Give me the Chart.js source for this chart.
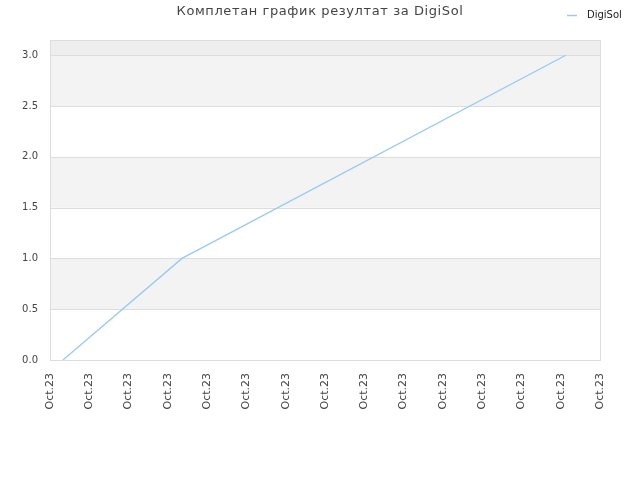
<!DOCTYPE html>
<html lang="sr">
<head>
  <meta charset="UTF-8" />
  <title>Комплетан график резултат за DigiSol</title>
  <script src="https://cdn.jsdelivr.net/npm/chart.js"></script>
  <style>
    body { margin: 0; background: #fff; }
    canvas { display: block; }
  </style>
</head>
<body>
  <canvas id="chart" width="640" height="480"></canvas>
  <script>
    // Tick labels along the time axis (all the same in the source)
    const xTickLabels = ["Oct.23","Oct.23","Oct.23","Oct.23","Oct.23","Oct.23","Oct.23","Oct.23",
                         "Oct.23","Oct.23","Oct.23","Oct.23","Oct.23","Oct.23","Oct.23"];
    // Series points (x in tick units, y = score)
    const seriesX = [0.33, 3.36, 13.13];
    const seriesY = [0, 1.0, 3.0];
    // Shaded bands on the value axis
    const bandsFrom = [0.5, 1.5, 2.5, 3.0];
    const bandsTo   = [1.0, 2.0, 3.0, 3.15];
    const bandsFill = ['#f3f3f3', '#f3f3f3', '#f3f3f3', '#eeeeee'];

    const FONT = "'DejaVu Sans', sans-serif";

    const decor = {
      id: 'decor',
      beforeDatasetsDraw(chart) {
        const { ctx, chartArea: a, scales: { y } } = chart;
        ctx.save();
        for (let i = 0; i < bandsFrom.length; i++) {
          const top = y.getPixelForValue(bandsTo[i]);
          const bot = y.getPixelForValue(bandsFrom[i]);
          ctx.fillStyle = bandsFill[i];
          ctx.fillRect(a.left, top, a.right - a.left, bot - top);
        }
        ctx.strokeStyle = '#dddddd';
        ctx.lineWidth = 1;
        y.ticks.forEach(t => {
          const py = Math.round(y.getPixelForValue(t.value)) + 0.5;
          ctx.beginPath(); ctx.moveTo(a.left, py); ctx.lineTo(a.right, py); ctx.stroke();
        });
        ctx.strokeRect(Math.round(a.left) + 0.5, Math.round(a.top) + 0.5,
                       Math.round(a.right - a.left), Math.round(a.bottom - a.top));
        ctx.restore();
      },
      afterDraw(chart) {
        const { ctx } = chart;
        ctx.save();
        // title
        ctx.fillStyle = '#444';
        ctx.font = '13px ' + FONT;
        ctx.letterSpacing = '0.6px';
        ctx.textAlign = 'center';
        ctx.textBaseline = 'middle';
        ctx.fillText('Комплетан график резултат за DigiSol', 320, 12);
        // legend, top right
        ctx.letterSpacing = '0px';
        ctx.strokeStyle = '#99c9f5';
        ctx.lineWidth = 1.5;
        ctx.beginPath(); ctx.moveTo(567, 15.5); ctx.lineTo(577, 15.5); ctx.stroke();
        ctx.fillStyle = '#222';
        ctx.font = '10px ' + FONT;
        ctx.textAlign = 'left';
        ctx.fillText(chart.data.datasets[0].label, 587, 15);
        ctx.restore();
      }
    };

    new Chart(document.getElementById('chart'), {
      type: 'line',
      data: {
        datasets: [{
          label: 'DigiSol',
          data: seriesX.map((x, i) => ({ x: x, y: seriesY[i] })),
          borderColor: '#99c9f5',
          borderWidth: 1.3,
          pointRadius: 0,
          tension: 0,
          fill: false
        }]
      },
      options: {
        responsive: false,
        animation: false,
        layout: { padding: { top: 40, right: 40, left: 0, bottom: 0 } },
        plugins: {
          legend: { display: false },
          tooltip: { enabled: false },
          title: { display: false }
        },
        scales: {
          x: {
            type: 'linear',
            min: 0,
            max: xTickLabels.length - 1,
            grid: { display: false, drawTicks: false },
            border: { display: false },
            afterBuildTicks: s => { s.ticks = xTickLabels.map((_, i) => ({ value: i })); },
            afterFit: s => { s.height = 120; },
            ticks: {
              stepSize: 1,
              autoSkip: false,
              maxRotation: 90,
              minRotation: 90,
              padding: 13,
              color: '#444',
              font: { family: FONT, size: 11 },
              callback: (v, i) => xTickLabels[i]
            }
          },
          y: {
            min: 0,
            max: 3.15,
            grid: { display: false, drawTicks: false },
            border: { display: false },
            afterBuildTicks: s => {
              s.ticks = s.ticks.filter(t => Math.abs(t.value * 2 - Math.round(t.value * 2)) < 1e-6);
            },
            afterFit: s => { s.width = 50; },
            ticks: {
              stepSize: 0.5,
              padding: 12,
              color: '#444',
              font: { family: FONT, size: 10 },
              callback: v => v.toFixed(1)
            }
          }
        }
      },
      plugins: [decor]
    });
  </script>
</body>
</html>
